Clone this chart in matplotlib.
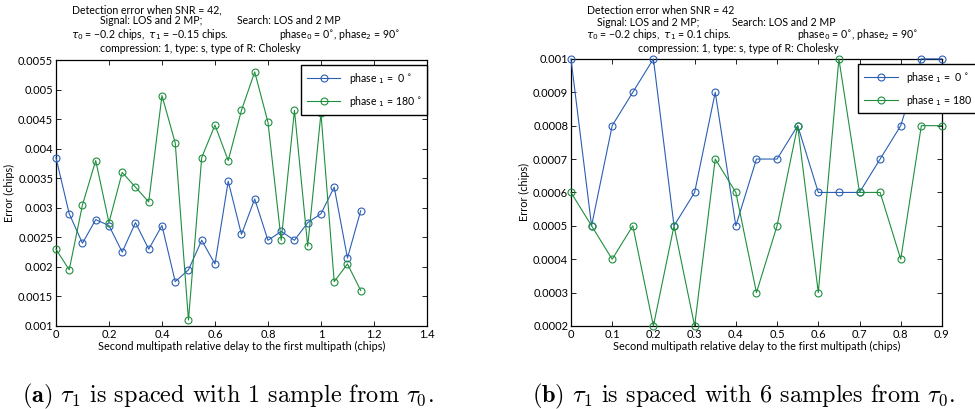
"""
Detection error vs. second multipath delay, two panels side by side.
"""
import numpy as np
import matplotlib
matplotlib.use('Agg')
import matplotlib.pyplot as plt
from matplotlib.ticker import FuncFormatter, MultipleLocator

plt.rcParams['font.family'] = ['Lato', 'DejaVu Sans']

# panel (a): tau_1 spaced 1 sample from tau_0
delay_a = [0.0, 0.05, 0.1, 0.15, 0.2, 0.25, 0.3, 0.35, 0.4, 0.45, 0.5, 0.55,
           0.6, 0.65, 0.7, 0.75, 0.8, 0.85, 0.9, 0.95, 1.0, 1.05, 1.1, 1.15]
err_a_phase0 = [0.00385, 0.0029, 0.0024, 0.0028, 0.0027, 0.00225, 0.00275, 0.0023,
                0.0027, 0.00175, 0.00195, 0.00245, 0.00205, 0.00345, 0.00255, 0.00315,
                0.00245, 0.0026, 0.00245, 0.00275, 0.0029, 0.00335, 0.00215, 0.00295]
err_a_phase180 = [0.0023, 0.00195, 0.00305, 0.0038, 0.00275, 0.0036, 0.00335, 0.0031,
                  0.0049, 0.0041, 0.0011, 0.00385, 0.0044, 0.0038, 0.00465, 0.0053,
                  0.00445, 0.00245, 0.00465, 0.00235, 0.0046, 0.00175, 0.00205, 0.0016]

# panel (b): tau_1 spaced 6 samples from tau_0
delay_b = [0.0, 0.05, 0.1, 0.15, 0.2, 0.25, 0.3, 0.35, 0.4, 0.45, 0.5, 0.55,
           0.6, 0.65, 0.7, 0.75, 0.8, 0.85, 0.9]
err_b_phase0 = [0.001, 0.0005, 0.0008, 0.0009, 0.001, 0.0005, 0.0006, 0.0009, 0.0005,
                0.0007, 0.0007, 0.0008, 0.0006, 0.0006, 0.0006, 0.0007, 0.0008, 0.001, 0.001]
err_b_phase180 = [0.0006, 0.0005, 0.0004, 0.0005, 0.0002, 0.0005, 0.0002, 0.0007, 0.0006,
                  0.0003, 0.0005, 0.0008, 0.0003, 0.001, 0.0006, 0.0006, 0.0004, 0.0008, 0.0008]

legend_labels = [r'phase $_1$ =  0 $^{\circ}$', r'phase $_1$ = 180 $^{\circ}$']
blue = '#2b5fb4'
green = '#1f8f3f'
TICK_FS = 8
LABEL_FS = 7.8
TITLE_FS = 7.6

fig = plt.figure(figsize=(9.75, 4.09), dpi=100)
ax_a = fig.add_axes([0.0574, 0.203, 0.3805, 0.650])
ax_b = fig.add_axes([0.5856, 0.203, 0.3805, 0.653])


def style_axes(ax, x, y0, y1, xlim, ylim, xstep, ystep, leg_anchor):
    ax.plot(x, y0, '-o', color=blue, lw=0.8, ms=5, mfc='none', mew=0.8,
            label=legend_labels[0], clip_on=False, zorder=3)
    ax.plot(x, y1, '-o', color=green, lw=0.8, ms=5, mfc='none', mew=0.8,
            label=legend_labels[1], clip_on=False, zorder=3)
    ax.set_xlim(*xlim)
    ax.set_ylim(*ylim)
    ax.xaxis.set_major_locator(MultipleLocator(xstep))
    ax.yaxis.set_major_locator(MultipleLocator(ystep))
    fmt = FuncFormatter(lambda v, p: f'{round(v, 6):g}')
    ax.xaxis.set_major_formatter(fmt)
    ax.yaxis.set_major_formatter(fmt)
    ax.tick_params(direction='in', top=True, right=True, length=3.5, width=0.6,
                   labelsize=TICK_FS, pad=2)
    for s in ax.spines.values():
        s.set_linewidth(0.9)
    ax.set_xlabel('Second multipath relative delay to the first multipath (chips)',
                  fontsize=LABEL_FS, labelpad=1)
    ax.set_ylabel('Error (chips)', fontsize=LABEL_FS, labelpad=2)
    leg = ax.legend(loc='upper left', bbox_to_anchor=leg_anchor, fontsize=7.6,
                    fancybox=False, edgecolor='black', framealpha=1,
                    borderaxespad=0, handlelength=3.2, borderpad=0.55,
                    labelspacing=0.75)
    leg.get_frame().set_linewidth(1.0)
    leg.set_zorder(5)


style_axes(ax_a, delay_a, err_a_phase0, err_a_phase180, (0, 1.4), (0.001, 0.0055),
           0.2, 0.0005, (0.66, 0.981))
style_axes(ax_b, delay_b, err_b_phase0, err_b_phase180, (0, 0.9), (0.0002, 0.001),
           0.1, 0.0001, (0.774, 0.981))


def ftext(px, py, s):
    fig.text(px / 975, 1 - py / 409, s, fontsize=TITLE_FS, ha='left', va='center',
             math_fontfamily='dejavusans')


# titles, panel (a)
ftext(72, 10, 'Detection error when SNR = 42,')
ftext(100, 20, 'Signal: LOS and 2 MP;')
ftext(237, 20, 'Search: LOS and 2 MP')
ftext(71, 34, r'$\tau_0$ = −0.2 chips,  $\tau_1$ = −0.15 chips.')
ftext(279, 34, r'phase$_0$ = 0$^{\circ}$, phase$_2$ = 90$^{\circ}$')
ftext(100, 49, 'compression: 1, type: s, type of R: Cholesky')

# titles, panel (b)
ftext(587, 11, 'Detection error when SNR = 42')
ftext(597, 22.5, 'Signal: LOS and 2 MP;')
ftext(732, 22.5, 'Search: LOS and 2 MP')
ftext(586, 35, r'$\tau_0$ = −0.2 chips,  $\tau_1$ = 0.1 chips.')
ftext(797, 35, r'phase$_0$ = 0$^{\circ}$, phase$_2$ = 90$^{\circ}$')
ftext(638, 48.5, 'compression: 1, type: s, type of R: Cholesky')

# captions
fig.text(22 / 975, 1 - 402 / 409,
         r'$\mathbf{(a)}$ $\tau_1$ is spaced with 1 sample from $\tau_0$.',
         family='cmr10', math_fontfamily='cm', fontsize=17.5, va='baseline')
fig.text(532 / 975, 1 - 402 / 409,
         r'$\mathbf{(b)}$ $\tau_1$ is spaced with 6 samples from $\tau_0$.',
         family='cmr10', math_fontfamily='cm', fontsize=17.5, va='baseline')

fig.savefig('out.png', dpi=100)
